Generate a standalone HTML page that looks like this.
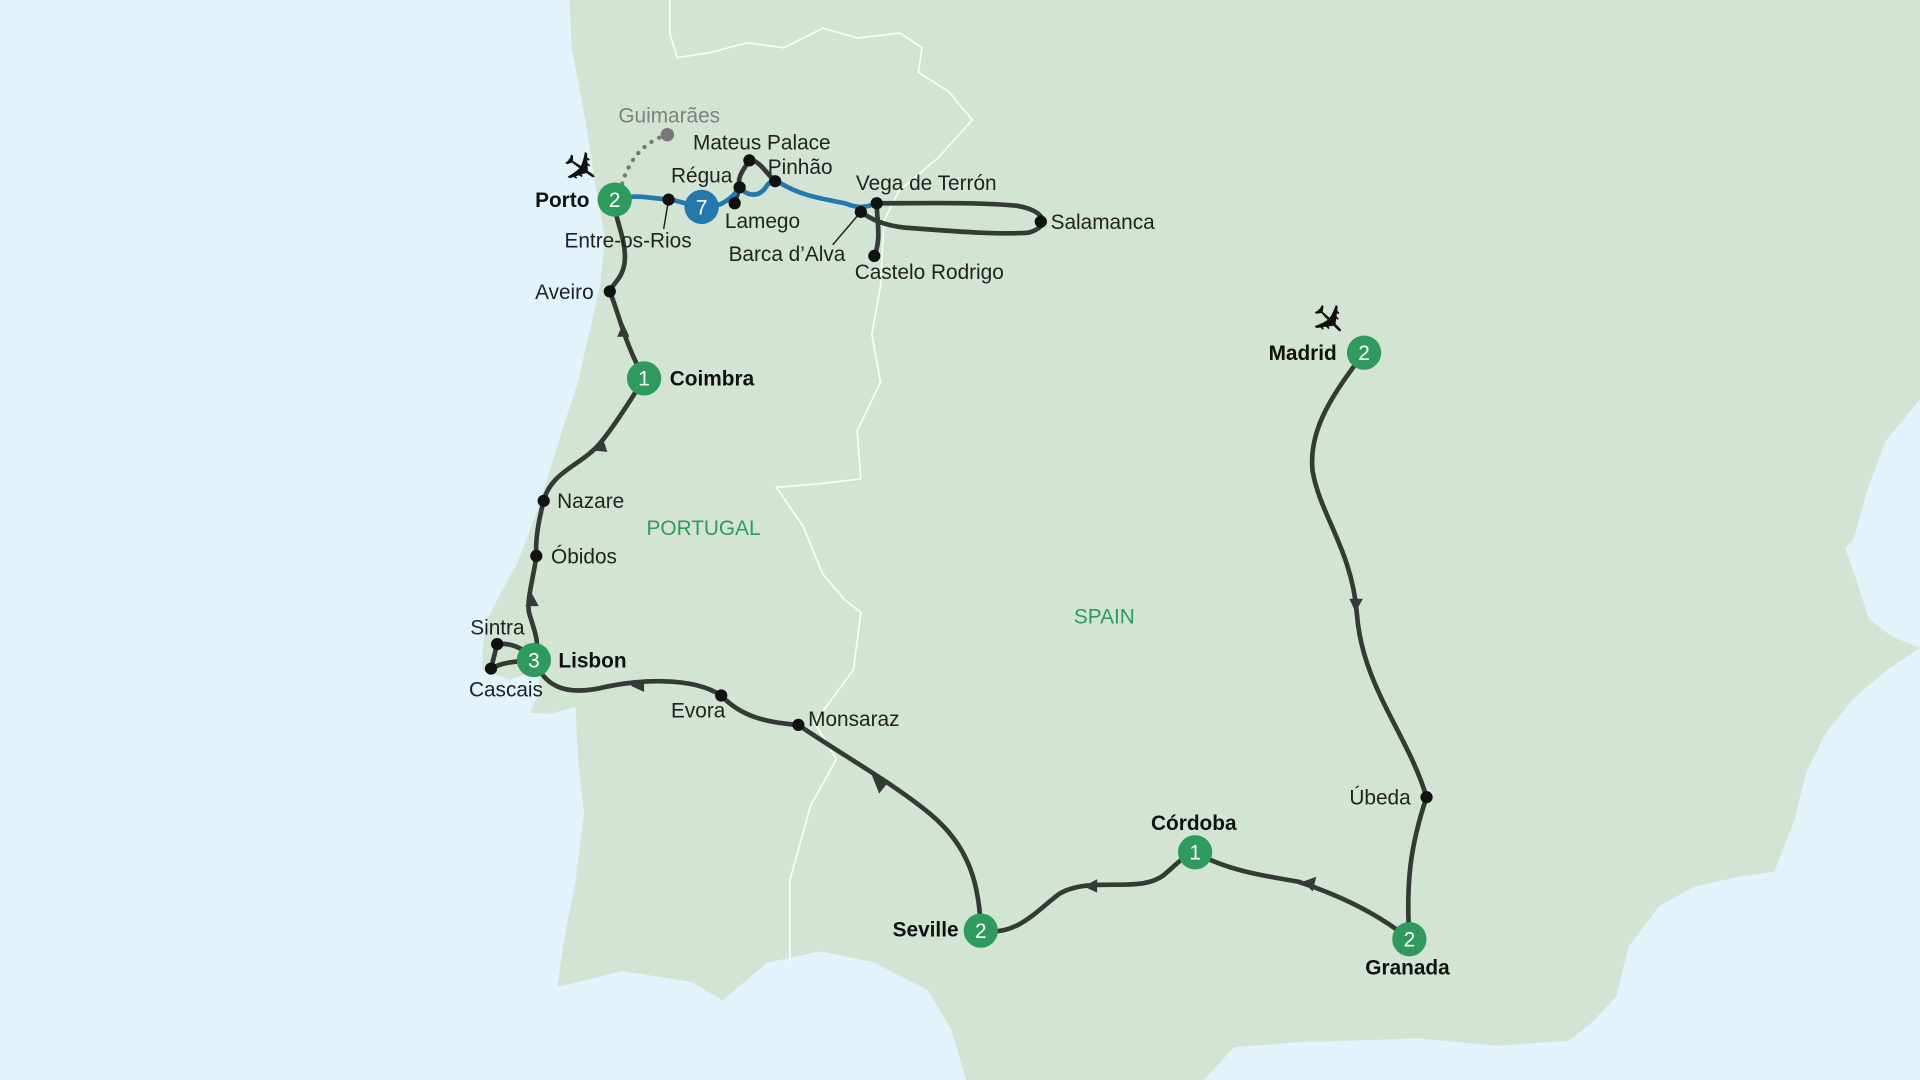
<!DOCTYPE html>
<html><head><meta charset="utf-8"><style>
html,body{margin:0;padding:0;background:#e2f3fc;}
svg{display:block}
text{font-family:"Liberation Sans",sans-serif;}
</style></head><body>
<svg width="1920" height="1080" viewBox="0 0 1568 882" xmlns="http://www.w3.org/2000/svg">
<rect width="1568" height="882" fill="#e2f3fc"/>
<path fill="#d3e4d5" d="M465,0 L1568,0 L1568,326 L1540,360 L1525,400 L1514,440 L1507,448 L1515,470 L1526,505 L1545,520 L1568,529 L1540,548 L1514,570 L1490,600 L1475,631 L1465,671 L1449,712 L1420,716 L1384,724 L1355,740 L1330,773 L1320,814 L1300,835 L1281,850 L1223,854 L1158,848 L1100,850 L1064,851 L1008,855 L983,882 L789,882 L777,841 L758,809 L714,786 L670,777 L627,786 L590,817 L565,802 L508,793 L455,806 L462,760 L470,720 L477,664 L472,620 L470,577 L450,583 L433,582 L440,566 L441,547 L416,555 L394,547 L394,531 L397,508 L409,484 L422,461 L437,422 L447,391 L459,352 L472,312 L481,273 L490,234 L494,195 L487,156 L478,98 L467,39 Z"/>
<g fill="none" stroke="#fff" stroke-width="1.3" opacity="0.9">
<path d="M547,0 L547,27 L553,47 L580,43 L610,35 L640,39 L672,23 L700,31 L735,27 L753,39 L750,59 L775,75 L794,98 L766,129 L734,156 L722,180 L719,234 L712,273 L719,312 L700,352 L703,391 L670,395 L634,398 L656,430 L672,469 L690,490 L703,500 L697,547 L680,570 L665,590 L683,620 L662,658 L645,719 L645,785"/>
</g>
<path d="M508,150 Q518,118 545,110" fill="none" stroke="#777" stroke-width="3.5" stroke-dasharray="0.1 7" stroke-linecap="round"/>
<circle cx="545" cy="110" r="5.5" fill="#777"/>
<g fill="none" stroke="#343a36" stroke-width="3.8" stroke-linecap="round" stroke-linejoin="round">
<path d="M502,170 C505,185 512,200 510,215 C508,228 500,232 498,238 C505,255 510,280 526,309"/>
<path d="M526,309 C510,335 500,350 490,362 C475,380 450,385 444,409 C440,425 437,440 438,454 C436,470 430,490 432,500 C436,515 442,525 436,539"/>
<path d="M436,539 C428,528 415,525 406,526 L401,546 C412,540 425,540 436,539"/>
<path d="M436,539 C445,560 460,568 490,562 C520,555 565,552 589,568 C605,585 625,590 652,592 C690,618 730,640 760,665 C790,690 800,720 801,760"/>
<path d="M801,760 C830,765 845,745 865,730 C890,715 930,730 950,715 C962,705 965,700 976,696 C1000,710 1030,715 1060,720 C1100,733 1130,750 1151,767"/>
<path d="M1151,767 C1148,720 1152,690 1165,651 C1150,600 1112,560 1108,500 C1104,450 1078,420 1072,385 C1068,350 1090,320 1114,288"/>
<path d="M716,166 C760,166 800,165 830,168 C855,172 858,185 840,190 C810,192 770,188 740,186 C720,184 710,178 703,173"/>
<path d="M716,166 C716,180 720,195 714,209"/>
<path d="M604,153 C602,145 606,140 612,131 C620,130 626,142 633,148"/>
<path d="M604,153 L600,166"/>
</g>
<path d="M502,163 C520,158 530,162 546,163 C556,164 563,168 573,169 C585,170 596,165 604,153 C610,160 620,162 626,152 C630,146 633,148 638,150 C655,160 670,162 690,166 C700,170 706,170 716,166" fill="none" stroke="#2478ad" stroke-width="3.8" stroke-linecap="round"/>
<g fill="#343a36">
<path d="M509,264 L504,275 L514,275 Z"/>
<path d="M492,357 L485,368 L496,369 Z"/>
<path d="M434,484 L429,495 L440,495 Z"/>
<path d="M515,560 L526,555 L526,565 Z"/>
<path d="M712,633 L726,638 L718,648 Z"/>
<path d="M1107,500 L1102,489 L1113,489 Z"/>
<path d="M885,724 L896,718 L896,729 Z"/>
<path d="M1064,720 L1075,716 L1072,728 Z"/>
</g>
<g stroke="#222" stroke-width="1.2">
<line x1="546" y1="163" x2="542" y2="187"/>
<line x1="703" y1="173" x2="680" y2="200"/>
</g>
<g fill="#111">
<circle cx="546" cy="163" r="5"/><circle cx="604" cy="153" r="5"/><circle cx="612" cy="131" r="5"/>
<circle cx="633" cy="148" r="5"/><circle cx="600" cy="166" r="5"/><circle cx="703" cy="173" r="5"/>
<circle cx="716" cy="166" r="5"/><circle cx="850" cy="181" r="5"/><circle cx="714" cy="209" r="5"/>
<circle cx="498" cy="238" r="5"/><circle cx="444" cy="409" r="5"/><circle cx="438" cy="454" r="5"/>
<circle cx="406" cy="526" r="5"/><circle cx="401" cy="546" r="5"/><circle cx="589" cy="568" r="5"/>
<circle cx="652" cy="592" r="5"/><circle cx="1165" cy="651" r="5"/>
</g>
<g font-size="17" text-anchor="middle" fill="#fff">
<circle cx="502" cy="163" r="14" fill="#2e9a5e"/><text x="502" y="169" fill="#fff">2</text>
<circle cx="573" cy="169" r="14" fill="#2478ad"/><text x="573" y="175" fill="#fff">7</text>
<circle cx="526" cy="309" r="14" fill="#2e9a5e"/><text x="526" y="315" fill="#fff">1</text>
<circle cx="436" cy="539" r="14" fill="#2e9a5e"/><text x="436" y="545" fill="#fff">3</text>
<circle cx="801" cy="760" r="14" fill="#2e9a5e"/><text x="801" y="766" fill="#fff">2</text>
<circle cx="976" cy="696" r="14" fill="#2e9a5e"/><text x="976" y="702" fill="#fff">1</text>
<circle cx="1151" cy="767" r="14" fill="#2e9a5e"/><text x="1151" y="773" fill="#fff">2</text>
<circle cx="1114" cy="288" r="14" fill="#2e9a5e"/><text x="1114" y="294" fill="#fff">2</text>
</g>
<text x="474" y="150" font-size="36" text-anchor="middle" fill="#111" transform="rotate(35 474 138)">✈</text>
<text x="1085" y="274" font-size="36" text-anchor="middle" fill="#111" transform="rotate(45 1085 262)">✈</text>
<g font-size="17" fill="#222">
<text x="505" y="100" fill="#808080">Guimarães</text>
<text x="566" y="122">Mateus Palace</text>
<text x="548" y="149">Régua</text>
<text x="627" y="142">Pinhão</text>
<text x="592" y="186">Lamego</text>
<text x="699" y="155">Vega de Terrón</text>
<text x="858" y="187">Salamanca</text>
<text x="595" y="213">Barca d’Alva</text>
<text x="698" y="228">Castelo Rodrigo</text>
<text x="461" y="202">Entre-os-Rios</text>
<text x="437" y="244">Aveiro</text>
<text x="455" y="415">Nazare</text>
<text x="450" y="460">Óbidos</text>
<text x="384" y="518">Sintra</text>
<text x="383" y="569">Cascais</text>
<text x="548" y="586">Evora</text>
<text x="660" y="593">Monsaraz</text>
<text x="1102" y="657">Úbeda</text>
</g>
<g font-size="17" font-weight="bold" fill="#111">
<text x="437" y="169">Porto</text>
<text x="547" y="315">Coimbra</text>
<text x="456" y="545">Lisbon</text>
<text x="1036" y="294">Madrid</text>
<text x="940" y="678">Córdoba</text>
<text x="729" y="765">Seville</text>
<text x="1115" y="796">Granada</text>
</g>
<g font-size="17" fill="#2e9a5e">
<text x="528" y="437">PORTUGAL</text>
<text x="877" y="509">SPAIN</text>
</g>
</svg>
</body></html>
